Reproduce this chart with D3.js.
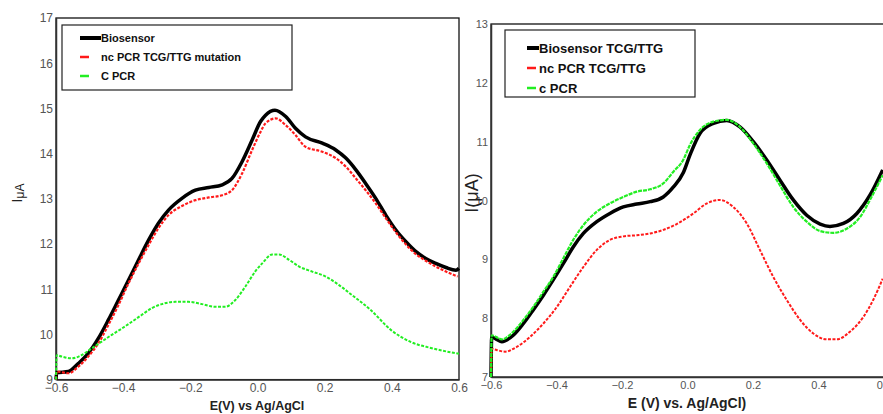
<!DOCTYPE html>
<html>
<head>
<meta charset="utf-8">
<script src="https://cdn.jsdelivr.net/npm/d3@7"></script>
<style>
  body { margin: 0; background: #fff; }
  svg { display: block; font-family: "Liberation Sans", Arial, sans-serif; }
  .tick text { fill: #555; }
</style>
</head>
<body>
<svg id="chart" width="883" height="414"></svg>
<script>

// tick values
const xTicks = [-0.6, -0.4, -0.2, 0.0, 0.2, 0.4, 0.6];
const yTicksLeft = [9, 10, 11, 12, 13, 14, 15, 16, 17];
const yTicksRight = [7, 8, 9, 10, 11, 12, 13];

// left panel, [E (V), I (uA)]
const leftBiosensor = [[-0.6,9.0],[-0.598,9.15],[-0.563,9.18],[-0.533,9.36],[-0.504,9.58],[-0.474,9.91],[-0.444,10.32],[-0.414,10.76],[-0.384,11.20],[-0.354,11.65],[-0.324,12.09],[-0.295,12.46],[-0.265,12.75],[-0.225,13.01],[-0.185,13.19],[-0.145,13.25],[-0.105,13.31],[-0.076,13.45],[-0.046,13.82],[-0.016,14.30],[0.009,14.71],[0.024,14.85],[0.052,14.96],[0.084,14.82],[0.113,14.56],[0.143,14.37],[0.193,14.23],[0.233,14.08],[0.263,13.90],[0.293,13.64],[0.322,13.34],[0.352,13.01],[0.382,12.64],[0.412,12.31],[0.442,12.05],[0.472,11.83],[0.501,11.68],[0.531,11.57],[0.561,11.48],[0.591,11.42],[0.6,11.46]];
const leftNcPcr = [[-0.6,9.0],[-0.598,9.18],[-0.563,9.14],[-0.533,9.29],[-0.504,9.51],[-0.474,9.80],[-0.444,10.21],[-0.414,10.65],[-0.384,11.13],[-0.354,11.57],[-0.324,11.98],[-0.295,12.35],[-0.265,12.64],[-0.225,12.84],[-0.185,12.97],[-0.145,13.03],[-0.105,13.08],[-0.076,13.19],[-0.046,13.56],[-0.016,14.08],[0.009,14.48],[0.024,14.67],[0.054,14.78],[0.084,14.63],[0.113,14.41],[0.143,14.15],[0.193,14.04],[0.233,13.90],[0.263,13.71],[0.293,13.45],[0.322,13.19],[0.352,12.90],[0.382,12.57],[0.412,12.26],[0.442,11.99],[0.472,11.77],[0.501,11.63],[0.531,11.50],[0.561,11.39],[0.596,11.28]];
const leftCPcr = [[-0.6,9.0],[-0.598,9.54],[-0.583,9.51],[-0.553,9.47],[-0.524,9.54],[-0.494,9.69],[-0.464,9.84],[-0.434,9.99],[-0.404,10.13],[-0.374,10.28],[-0.345,10.43],[-0.315,10.58],[-0.285,10.67],[-0.245,10.72],[-0.205,10.72],[-0.165,10.67],[-0.126,10.61],[-0.096,10.61],[-0.066,10.76],[-0.036,11.06],[-0.006,11.40],[0.014,11.57],[0.044,11.77],[0.064,11.77],[0.094,11.65],[0.124,11.50],[0.163,11.39],[0.203,11.28],[0.243,11.09],[0.278,10.89],[0.337,10.54],[0.397,10.10],[0.457,9.83],[0.516,9.70],[0.6,9.57]];

// right panel
const rightBiosensor = [[-0.6,7.0],[-0.598,7.68],[-0.583,7.64],[-0.567,7.60],[-0.532,7.71],[-0.501,7.91],[-0.471,8.14],[-0.440,8.39],[-0.410,8.65],[-0.379,8.93],[-0.349,9.21],[-0.318,9.44],[-0.277,9.64],[-0.237,9.78],[-0.196,9.89],[-0.155,9.94],[-0.114,9.98],[-0.074,10.06],[-0.043,10.23],[-0.013,10.47],[0.008,10.78],[0.038,11.14],[0.079,11.31],[0.120,11.36],[0.160,11.25],[0.201,11.00],[0.242,10.69],[0.282,10.35],[0.323,10.01],[0.364,9.75],[0.405,9.60],[0.435,9.56],[0.476,9.61],[0.517,9.78],[0.557,10.09],[0.596,10.52]];
const rightNcPcr = [[-0.6,7.0],[-0.598,7.48],[-0.583,7.46],[-0.557,7.43],[-0.522,7.51],[-0.481,7.68],[-0.440,7.91],[-0.399,8.19],[-0.359,8.53],[-0.318,8.87],[-0.277,9.16],[-0.237,9.33],[-0.196,9.39],[-0.155,9.41],[-0.114,9.44],[-0.074,9.50],[-0.033,9.60],[0.018,9.78],[0.059,9.95],[0.099,10.01],[0.140,9.89],[0.181,9.61],[0.221,9.16],[0.262,8.70],[0.303,8.31],[0.344,7.97],[0.384,7.74],[0.425,7.64],[0.456,7.64],[0.496,7.77],[0.537,8.02],[0.567,8.31],[0.596,8.67]];
const rightCPcr = [[-0.6,7.0],[-0.598,7.71],[-0.567,7.64],[-0.532,7.77],[-0.501,7.97],[-0.471,8.19],[-0.440,8.45],[-0.410,8.70],[-0.379,9.02],[-0.349,9.33],[-0.318,9.58],[-0.277,9.81],[-0.237,9.95],[-0.196,10.06],[-0.155,10.15],[-0.114,10.19],[-0.074,10.29],[-0.043,10.49],[-0.013,10.69],[0.008,10.95],[0.038,11.20],[0.079,11.34],[0.120,11.37],[0.160,11.25],[0.201,10.97],[0.242,10.63],[0.282,10.26],[0.323,9.89],[0.364,9.64],[0.405,9.48],[0.445,9.45],[0.486,9.52],[0.527,9.72],[0.562,10.06],[0.596,10.43]];

const leftNames = ["Biosensor", "nc PCR TCG/TTG mutation", "C PCR"];
const rightNames = ["Biosensor TCG/TTG", "nc PCR TCG/TTG", "c PCR"];

const svg = d3.select("#chart");

function panel(opt) {
  const x = d3.scaleLinear().domain([-0.6, 0.6]).range([opt.left, opt.right]);
  const y = d3.scaleLinear().domain(opt.yDomain).range([opt.bottom, opt.top]);
  const g = svg.append("g");

  // frame
  g.append("rect")
      .attr("x", opt.left).attr("y", opt.top)
      .attr("width", opt.right - opt.left).attr("height", opt.bottom - opt.top)
      .attr("fill", "none").attr("stroke", "#111").attr("stroke-width", 1.3);

  const xAxis = g.append("g")
      .attr("transform", `translate(0,${opt.bottom})`)
      .call(d3.axisBottom(x).tickValues(xTicks).tickSize(0).tickPadding(4).tickFormat(d3.format(".1f")));
  xAxis.select(".domain").attr("stroke", "#333").attr("stroke-width", 1.5);
  xAxis.selectAll("text").attr("font-size", opt.tickFont);

  const yAxis = g.append("g")
      .attr("transform", `translate(${opt.left},0)`)
      .call(d3.axisLeft(y).tickValues(opt.yTicks).tickSize(0).tickPadding(3).tickFormat(d3.format("d")));
  yAxis.select(".domain").attr("stroke", "#333").attr("stroke-width", 1.5);
  yAxis.selectAll("text").attr("font-size", opt.tickFont);

  const line = d3.line()
      .x(d => x(d[0]))
      .y(d => y(d[1]))
      .curve(d3.curveMonotoneX);

  opt.series.forEach(s => {
    g.append("path")
        .datum(s.data)
        .attr("fill", "none")
        .attr("stroke", s.color)
        .attr("stroke-width", s.width)
        .attr("stroke-dasharray", s.dash)
        .attr("stroke-linejoin", "round")
        .attr("d", line);
  });

  // legend
  const L = opt.legend;
  g.append("rect")
      .attr("x", L.x).attr("y", L.y).attr("width", L.w).attr("height", L.h)
      .attr("fill", "#fff").attr("stroke", "#222").attr("stroke-width", 1.2);
  opt.names.forEach((name, i) => {
    const s = opt.legendSeries[i];
    const ly = L.y + L.first + i * L.step;
    g.append("line")
        .attr("x1", L.sx).attr("x2", L.sx + (i === 0 ? L.slong : L.sshort))
        .attr("y1", ly).attr("y2", ly)
        .attr("stroke", s.color).attr("stroke-width", i === 0 ? 4 : 2.5);
    g.append("text")
        .attr("x", L.tx).attr("y", ly)
        .attr("dy", "0.35em")
        .attr("font-size", L.font).attr("font-weight", "bold").attr("fill", "#111")
        .text(name);
  });
  return { x, y, g };
}

const leftSeries = [
  { data: leftBiosensor, color: "#000", width: 3.5, dash: null },
  { data: leftNcPcr, color: "#ff1a1a", width: 2.2, dash: "3,1.5" },
  { data: leftCPcr, color: "#22ee22", width: 2, dash: "3,1.5" }
];

panel({
  left: 56, right: 459, top: 18, bottom: 379.6,
  yDomain: [9, 17], yTicks: yTicksLeft, tickFont: 12,
  names: leftNames,
  series: leftSeries,
  legendSeries: leftSeries,
  legend: { x: 62, y: 25, w: 230, h: 65, first: 13, step: 19, sx: 80, slong: 21, sshort: 9, tx: 101, font: 11 }
});

const rightSeries = [
  { data: rightBiosensor, color: "#000", width: 3.5, dash: null },
  { data: rightNcPcr, color: "#ff1a1a", width: 2, dash: "3,1.5" },
  { data: rightCPcr, color: "#22ee22", width: 2.2, dash: "4,1" }
];

panel({
  left: 491, right: 884, top: 24, bottom: 377,
  yDomain: [7, 13], yTicks: yTicksRight, tickFont: 11,
  names: rightNames,
  series: rightSeries,
  legendSeries: rightSeries,
  legend: { x: 505, y: 30, w: 190, h: 67, first: 18, step: 20, sx: 527, slong: 12, sshort: 9, tx: 539, font: 13 }
});

// axis titles
svg.append("text")
    .attr("x", 257).attr("y", 410)
    .attr("text-anchor", "middle").attr("font-size", 12.5).attr("font-weight", "bold").attr("fill", "#222")
    .text("E(V) vs Ag/AgCl");

const yl = svg.append("text")
    .attr("transform", "translate(22,193) rotate(-90)")
    .attr("text-anchor", "middle").attr("font-size", 14).attr("fill", "#222");
yl.append("tspan").text("I");
yl.append("tspan").attr("font-size", 12).attr("dy", 2).text("μA");

svg.append("text")
    .attr("x", 687).attr("y", 408)
    .attr("text-anchor", "middle").attr("font-size", 14).attr("font-weight", "bold").attr("fill", "#222")
    .text("E (V) vs. Ag/AgCl)");

svg.append("text")
    .attr("transform", "translate(478,193) rotate(-90)")
    .attr("text-anchor", "middle").attr("font-size", 18).attr("fill", "#222")
    .text("I(μA)");

</script>
</body>
</html>
